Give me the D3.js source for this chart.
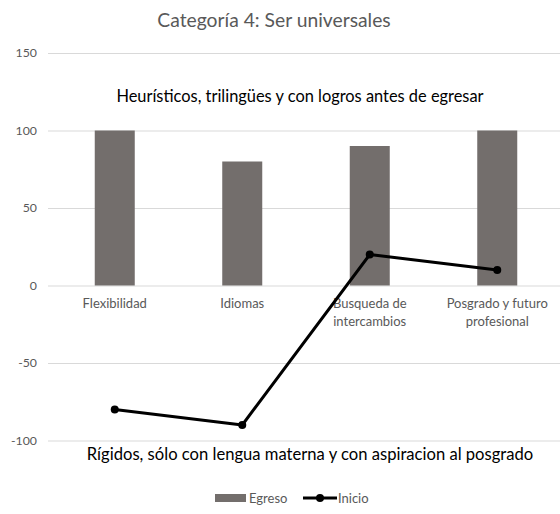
<!DOCTYPE html>
<html><head><meta charset="utf-8">
<script src="https://cdn.jsdelivr.net/npm/d3@7"></script>
<style>body{margin:0;background:#fff}svg{display:block}text{font-family:Lato,"Open Sans",sans-serif}</style>
</head><body><svg id="c" width="560" height="514"></svg>
<script>
const categories = [["Flexibilidad"],["Idiomas"],["Busqueda de","intercambios"],["Posgrado y futuro","profesional"]];
const egreso = [100, 80, 90, 100];
const inicio = [-80, -90, 20, 10];
const yTicks = [150, 100, 50, 0, -50, -100];

const svg = d3.select("#c");
const x = d3.scaleBand().domain(d3.range(categories.length)).range([51, 561]);
const y = d3.scaleLinear().domain([-100, 150]).range([440.5, 53]);

svg.append("text").attr("x", 274).attr("y", 27).attr("text-anchor", "middle")
  .attr("fill", "#595959").attr("font-size", 19.3).text("Categoría 4: Ser universales");

const yAxis = d3.axisLeft(y).tickValues(yTicks).tickSize(-513).tickPadding(11)
  .tickFormat(d => String(d).replace("\u2212", "-"));
const ya = svg.append("g").attr("transform", "translate(48,0)").call(yAxis);
ya.select(".domain").remove();
ya.selectAll(".tick line").attr("stroke", "#d9d9d9");
ya.selectAll(".tick text").attr("fill", "#595959").attr("font-size", 12.3);

svg.append("text").attr("x", 300).attr("y", 102).attr("text-anchor", "middle")
  .attr("fill", "#000").attr("font-size", 16.4).text("Heurísticos, trilingües y con logros antes de egresar");
svg.append("text").attr("x", 310).attr("y", 460).attr("text-anchor", "middle")
  .attr("fill", "#000").attr("font-size", 16.6).text("Rígidos, sólo con lengua materna y con aspiracion al posgrado");

const bw = 40;
svg.append("g").selectAll("rect").data(egreso).join("rect")
  .attr("x", (d, i) => x(i) + x.bandwidth() / 2 - bw / 2)
  .attr("width", bw)
  .attr("y", d => y(d))
  .attr("height", d => y(0) - y(d))
  .attr("fill", "#736e6c");

const labels = svg.append("g");
categories.forEach((c, i) => {
  const cx = x(i) + x.bandwidth() / 2;
  const t = labels.append("text").attr("text-anchor", "middle").attr("fill", "#595959").attr("font-size", 13)
    .attr("x", cx).attr("y", 308);
  c.forEach((ln, j) => t.append("tspan").attr("x", cx).attr("dy", j ? 18 : 0).text(ln));
});

const line = d3.line().x((d, i) => x(i) + x.bandwidth() / 2).y(d => y(d));
svg.append("path").datum(inicio).attr("d", line).attr("fill", "none").attr("stroke", "#000").attr("stroke-width", 3).attr("stroke-linejoin","round");
svg.append("g").selectAll("circle").data(inicio).join("circle")
  .attr("cx", (d, i) => x(i) + x.bandwidth() / 2).attr("cy", d => y(d)).attr("r", 4).attr("fill", "#000");

const lg = svg.append("g");
lg.append("rect").attr("x", 215).attr("y", 494).attr("width", 31).attr("height", 8).attr("fill", "#736e6c");
lg.append("text").attr("x", 249).attr("y", 502.5).attr("font-size", 13).attr("fill", "#595959").text("Egreso");
lg.append("line").attr("x1", 303).attr("x2", 337).attr("y1", 498).attr("y2", 498).attr("stroke", "#000").attr("stroke-width", 3);
lg.append("circle").attr("cx", 320).attr("cy", 498).attr("r", 4).attr("fill", "#000");
lg.append("text").attr("x", 338).attr("y", 502.5).attr("font-size", 13).attr("fill", "#595959").text("Inicio");
</script></body></html>
